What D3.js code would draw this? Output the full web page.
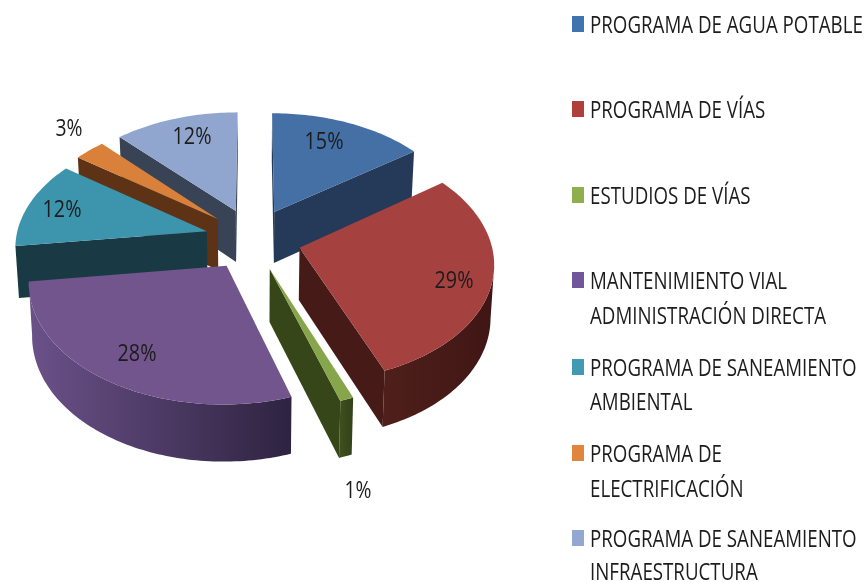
<!DOCTYPE html>
<html>
<head>
<meta charset="utf-8">
<script src="https://cdn.jsdelivr.net/npm/d3@7"></script>
<style>
  html, body { margin: 0; background: #fff; }
  svg { display: block; filter: blur(0.45px); }
  text { font-family: "Open Sans", sans-serif; fill: #1c1c1c; }
</style>
</head>
<body>
<svg width="867" height="582"></svg>
<script>
// exploded 3d pie with d3.js v7

var categories = ["PROGRAMA DE AGUA POTABLE", "PROGRAMA DE VÍAS", "ESTUDIOS DE VÍAS",
  "MANTENIMIENTO VIAL ADMINISTRACIÓN DIRECTA", "PROGRAMA DE SANEAMIENTO AMBIENTAL",
  "PROGRAMA DE ELECTRIFICACIÓN", "PROGRAMA DE SANEAMIENTO INFRAESTRUCTURA"];
var values = [15, 29, 1, 28, 12, 3, 12];

// legend line breaks
var legendLines = [
  ["PROGRAMA DE AGUA POTABLE"],
  ["PROGRAMA DE VÍAS"],
  ["ESTUDIOS DE VÍAS"],
  ["MANTENIMIENTO VIAL", "ADMINISTRACIÓN DIRECTA"],
  ["PROGRAMA DE SANEAMIENTO", "AMBIENTAL"],
  ["PROGRAMA DE", "ELECTRIFICACIÓN"],
  ["PROGRAMA DE SANEAMIENTO", "INFRAESTRUCTURA"]
];

// colours
var topColors = ["#4470a6", "#a54240", "#87a64c", "#71558c", "#3d95ad", "#d9803a", "#91a6ce"];
var wallColors = ["#253a58", "#451a17", "#374619", "#3a2b52", "#193a44", "#5e3214", "#384356"];
var rimLeft = ["#2a4262", "#4f1f1b", "#3f4f1d", "#6b5189", "#1c4350", "#6a3a18", "#404c62"];
var rimRight = ["#20324c", "#3f1614", "#33411a", "#2e2340", "#173540", "#54300f", "#323c4e"];
var swatchColors = ["#3f74ad", "#b03f3c", "#8fae4c", "#71569a", "#3f9ab2", "#e0853c", "#92a8d2"];

// layout of the pie
var cx = 253, cy = 239;      // pie centre before the explosion
var explodeX = 48, explodeY = 31;
var rx = 191, ry = 116;      // radius of the disc
var persp = 0.115;           // front of the disc is nearer than the back
var depth = 52;
var drawOrder = [0, 6, 5, 4, 3, 2, 1];

// percent labels and legend rows
var labelPos = [[324, 149], [454, 288], [358, 498], [137, 361], [62, 217], [69, 136], [192, 144]];
var labelWidth = 39, smallLabelWidth = 27;
var legendBase = [[33], [118], [204], [289, 324], [376, 410], [462, 497], [547, 580]];
var legendX = 590, swatchX = 572;
var legendFirstWidth = 273;

var svg = d3.select("svg");

var pie = d3.pie().sort(null).value(function (d) { return d; });
var arcs = pie(values);

var line = d3.line();
var defs = svg.append("defs");

// disc coordinates (pixels from the centre, before perspective) to screen
function project(u, v) {
  var vt = v / ry;
  var s = 1 / (1 - persp * vt);
  return { x: cx + u * s, y: cy + v * s, v: vt };
}

// same point on the underside of the slice
function lowPoint(p) {
  return [p.x + (cx - p.x) * 0.015, p.y + depth * (1 + 0.08 * p.v)];
}

function xy(p) { return [p.x, p.y]; }

var g = svg.append("g");

drawOrder.forEach(function (i) {
  var d = arcs[i];
  var mid = (d.startAngle + d.endAngle) / 2;
  var u0 = explodeX * Math.sin(mid), v0 = -explodeY * Math.cos(mid);
  var apex = project(u0, v0);

  var steps = Math.max(4, Math.round((d.endAngle - d.startAngle) / 0.02));
  var rim = d3.range(steps + 1).map(function (k) {
    var a = d.startAngle + (d.endAngle - d.startAngle) * k / steps;
    return project(u0 + rx * Math.sin(a), v0 - ry * Math.cos(a));
  });

  var grad = defs.append("linearGradient")
    .attr("id", "rim" + i)
    .attr("gradientUnits", "userSpaceOnUse")
    .attr("x1", d3.min(rim, function (p) { return p.x; }))
    .attr("x2", d3.max(rim, function (p) { return p.x; }))
    .attr("y1", 0).attr("y2", 0);
  grad.append("stop").attr("offset", 0).attr("stop-color", rimLeft[i]);
  grad.append("stop").attr("offset", 1).attr("stop-color", rimRight[i]);

  var s = g.append("g").attr("class", "slice");

  // flat side walls, only the ones that face the viewer
  [[apex, rim[0]], [rim[steps], apex]].forEach(function (e) {
    if (e[1].x < e[0].x - 1) {
      s.append("path")
        .attr("d", line([xy(e[0]), xy(e[1]), lowPoint(e[1]), lowPoint(e[0])]) + "Z")
        .attr("fill", wallColors[i]);
    }
  });

  // outer wall, where the rim runs right to left on screen
  var front = [];
  rim.forEach(function (p, k) {
    if (k > 0 && p.x < rim[k - 1].x) {
      if (!front.length) front.push(rim[k - 1]);
      front.push(p);
    }
  });
  if (front.length) {
    var outline = front.map(xy).concat(front.slice().reverse().map(lowPoint));
    s.append("path")
      .attr("d", line(outline) + "Z")
      .attr("fill", "url(#rim" + i + ")");
  }

  // top face
  s.append("path")
    .attr("d", line([xy(apex)].concat(rim.map(xy))) + "Z")
    .attr("fill", topColors[i]);
});

// percent labels, squeezed horizontally since no Calibri here
svg.selectAll(".pct")
  .data(values)
  .enter().append("text")
  .attr("class", "pct")
  .attr("text-anchor", "middle")
  .attr("font-size", 24)
  .text(function (d) { return d + "%"; })
  .attr("transform", function (d, i) {
    var w = this.getComputedTextLength();
    var target = d < 10 ? smallLabelWidth : labelWidth;
    return "translate(" + labelPos[i][0] + "," + labelPos[i][1] + ") scale(" + (target / w) + ",1)";
  });

// legend
var legend = svg.selectAll(".legend")
  .data(categories)
  .enter().append("g")
  .attr("class", "legend");

legend.append("rect")
  .attr("x", swatchX)
  .attr("y", function (d, i) { return legendBase[i][0] - 17; })
  .attr("width", 12)
  .attr("height", 16)
  .attr("fill", function (d, i) { return swatchColors[i]; });

legend.each(function (d, i) {
  legendLines[i].forEach(function (txt, k) {
    d3.select(this).append("text")
      .attr("class", "legend-line")
      .attr("data-base", legendBase[i][k])
      .attr("font-size", 24)
      .text(txt);
  }, this);
});

var squeeze = legendFirstWidth / svg.select(".legend-line").node().getComputedTextLength();
svg.selectAll(".legend-line")
  .attr("transform", function () {
    return "translate(" + legendX + "," + this.getAttribute("data-base") + ") scale(" + squeeze + ",1)";
  });
</script>
</body>
</html>
